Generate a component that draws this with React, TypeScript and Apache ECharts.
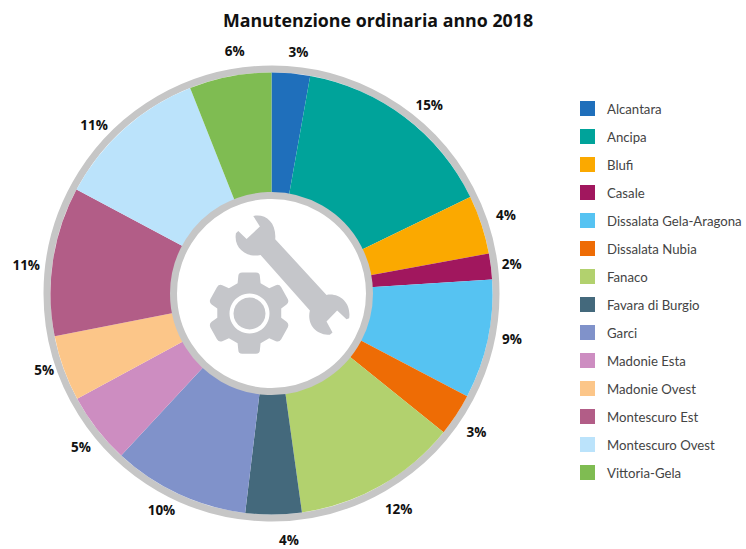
import React, { useEffect, useRef } from "react";
import * as echarts from "echarts";

const titleText = "Manutenzione ordinaria anno 2018";
const categories = ["Alcantara", "Ancipa", "Blufi", "Casale", "Dissalata Gela-Aragona", "Dissalata Nubia", "Fanaco", "Favara di Burgio", "Garci", "Madonie Esta", "Madonie Ovest", "Montescuro Est", "Montescuro Ovest", "Vittoria-Gela"];
const values = [2.8, 15, 4.3, 1.9, 8.7, 3.1, 12, 4.1, 10, 5.2, 4.8, 10.9, 11.2, 6];
const colors = ["#1F6FBB", "#00A39A", "#FBA900", "#A1175E", "#56C3F2", "#EE6C05", "#B2D16E", "#44697C", "#8092CA", "#CD8DC1", "#FCC689", "#B25D87", "#BBE3FB", "#7FBC52"];
const labelNudgeX = [5, 7, -3, -8, -4, -4, 4, 15, -5, 7, 8, 2, -11, 10];
const labelNudgeY = [8, 11, 0, 1, -7, 1, -2, -3, -10, 0, -8, 8, 18, 3];

const wrenchPath = "M250 108 C285 100 320 125 316 178 L470 345 C510 338 545 370 538 415 L530 418 L502 392 L470 425 L488 458 L480 465 C440 465 410 435 420 392 L272 225 C230 235 190 205 198 160 L205 153 L230 177 L270 140 Z";
const gearPath = "M205 290 Q205 278 217 278 L258 278 Q270 278 270 290 L272 310 L298 325 L318 316 Q328 312 334 322 L354 358 Q358 368 350 374 L334 386 L334 414 L350 426 Q358 432 354 442 L334 478 Q328 488 318 484 L298 475 L272 490 L270 510 Q270 522 258 522 L217 522 Q205 522 205 510 L203 490 L177 475 L157 484 Q147 488 141 478 L121 442 Q117 432 125 426 L142 414 L142 386 L125 374 Q117 368 121 358 L141 322 Q147 312 157 316 L177 325 L203 310 Z";

echarts.graphic.registerShape("wrenchIcon", (echarts.graphic as any).extendPath(wrenchPath, {}));
echarts.graphic.registerShape("gearIcon", (echarts.graphic as any).extendPath(gearPath, {}));

export default function App() {
  const ref = useRef<HTMLDivElement>(null);
  useEffect(() => {
    const chart = echarts.init(ref.current!, null, { renderer: "svg" });
    const cx = 271.5, cy = 293.5;
    const data = categories.map((name, i) => ({ name, value: values[i], itemStyle: { color: colors[i] } }));
    chart.setOption({
      animation: false,
      backgroundColor: "#fff",
      title: {
        text: titleText,
        left: 373,
        top: 6,
        textAlign: "center",
        textStyle: { fontFamily: "Open Sans", fontWeight: 700, fontSize: 17.8, color: "#111" },
      },
      legend: {
        orient: "vertical",
        left: 575,
        top: 96,
        icon: "rect",
        itemWidth: 15,
        itemHeight: 15,
        itemGap: 13,
        data: categories,
        textStyle: { fontFamily: "Lato", fontSize: 13.2, color: "#444", padding: [0, 0, 0, 7] },
      },
      graphic: [
        { type: "circle", shape: { cx, cy, r: 224.5 }, style: { fill: "none", stroke: "#C6C6C6", lineWidth: 7 }, z: 0, silent: true },
        { type: "circle", shape: { cx, cy, r: 98 }, style: { fill: "#fff", stroke: "#C6C6C6", lineWidth: 7 }, z: 10, silent: true },
        { type: "wrenchIcon", x: 170, y: 180, scaleX: 1 / 3, scaleY: 1 / 3, style: { fill: "#C5C6CA" }, z: 11, silent: true },
        { type: "gearIcon", x: 170, y: 180, scaleX: 1 / 3, scaleY: 1 / 3, style: { fill: "#C5C6CA" }, z: 11, silent: true },
        { type: "circle", shape: { cx: 249.5, cy: 313.5, r: 20 }, style: { fill: "#fff" }, z: 12, silent: true },
        { type: "circle", shape: { cx: 249.5, cy: 313.5, r: 16 }, style: { fill: "#C5C6CA" }, z: 13, silent: true },
      ],
      series: [
        {
          type: "pie",
          center: [cx, cy],
          radius: [95, 221],
          startAngle: 90,
          clockwise: true,
          silent: true,
          label: { show: false },
          labelLine: { show: false },
          data,
        },
        {
          type: "pie",
          center: [cx, cy],
          radius: [234, 260],
          startAngle: 90,
          clockwise: true,
          silent: true,
          itemStyle: { color: "transparent" },
          label: {
            show: true,
            position: "inside",
            formatter: (p: any) => `${Math.round(p.value)}%`,
            fontFamily: "Open Sans",
            fontWeight: 700,
            fontSize: 13.5,
            color: "#111",
          },
          labelLayout: (p: any) => ({ dx: labelNudgeX[p.dataIndex], dy: labelNudgeY[p.dataIndex] }),
          labelLine: { show: false },
          data: categories.map((name, i) => ({ name, value: values[i], itemStyle: { color: "transparent" } })),
        },
      ],
    });
    return () => chart.dispose();
  }, []);
  return <div ref={ref} style={{ position: "absolute", left: 0, top: 0, width: 746, height: 549 }} />;
}
